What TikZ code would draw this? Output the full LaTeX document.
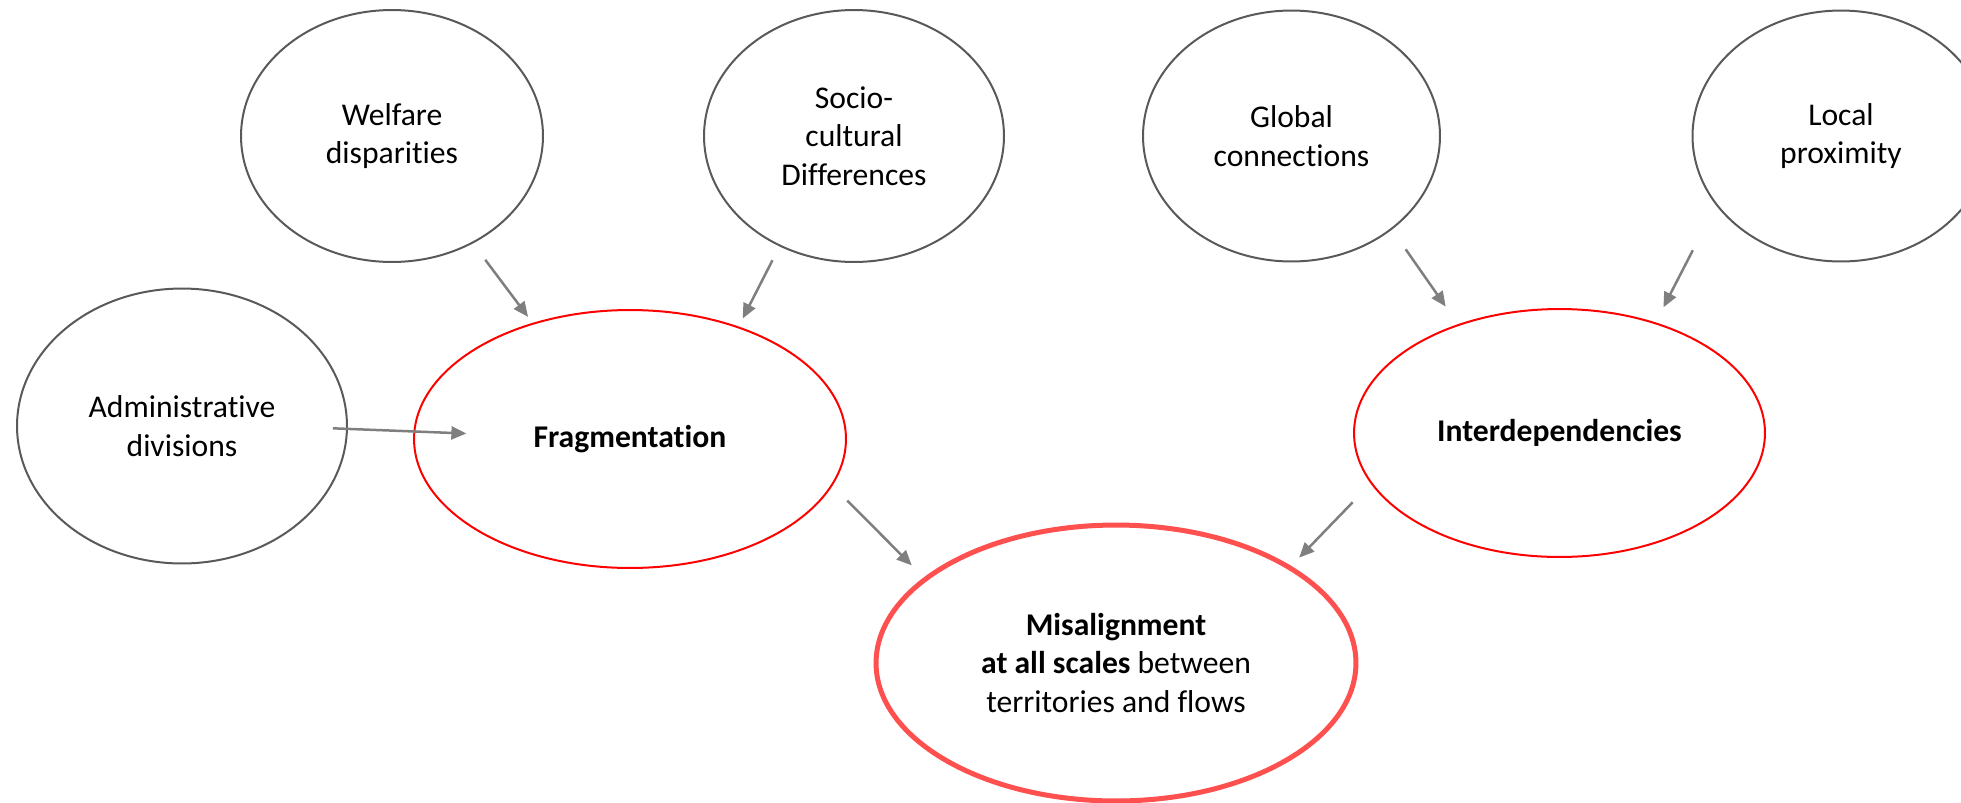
\documentclass[tikz,border=0pt]{standalone}
\usepackage{fontspec}
\setmainfont{Carlito}[Ligatures=NoCommon]
\usetikzlibrary{shapes.geometric,arrows.meta}
\definecolor{ringgrey}{HTML}{595959}
\definecolor{ringred}{HTML}{FF0000}
\definecolor{ringpink}{HTML}{FF5050}
\definecolor{arrowgrey}{HTML}{7F7F7F}
\tikzset{
	cause/.style={ellipse, draw=ringgrey, line width=0.04cm, align=center, inner sep=0pt, font=\fontsize{18}{21.9}\selectfont},
	effect/.style={cause, draw=ringred},
	outcome/.style={cause, draw=ringpink, line width=0.1cm},
	link/.style={draw=arrowgrey, line width=0.05cm, -{Triangle[length=0.3cm,width=0.26cm]}}
}

\begin{document}
\begin{tikzpicture}[x=0.02cm, y=-0.02cm]
			%%%%% START %%%%%
			
			\useasboundingbox (0, 0) rectangle (1961, 802);
			
			\node[cause, minimum width=6.04cm, minimum height=5.04cm] (welfare) at (392, 136) {Welfare\\disparities};
			\node[cause, minimum width=6.0cm, minimum height=5.04cm] (socio) at (854, 136) {Socio-\\cultural\\Differences};
			\node[cause, minimum width=5.94cm, minimum height=5.02cm] (global) at (1291.5, 136) {Global\\connections};
			\node[cause, minimum width=5.94cm, minimum height=5.02cm] (local) at (1841, 136) {Local\\proximity};
			\node[cause, minimum width=6.6cm, minimum height=5.5cm] (admin) at (182, 426) {Administrative\\divisions};
			
			\node[effect, minimum width=8.64cm, minimum height=5.16cm] (frag) at (630, 439) {\textbf{Fragmentation}};
			\node[effect, minimum width=8.22cm, minimum height=4.96cm] (inter) at (1559.5, 433) {\textbf{Interdependencies}};
			
			\node[outcome, minimum width=9.6cm, minimum height=5.52cm] (misalign) at (1116, 663) {\textbf{Misalignment}\\\textbf{at all scales} between\\territories and flows};
			
			\draw[link, shorten <=0.41cm, shorten >=0.15cm] (welfare.307) -- (frag.130);
			\draw[link, shorten <=0.31cm, shorten >=0.18cm] (socio.236) -- (frag.46);
			\draw[link, shorten <=-0.3cm, shorten >=-1.06cm] (admin.359) -- (frag.178);
			\draw[link, shorten <=0.42cm, shorten >=0.34cm] (frag.347) -- (misalign.156);
			
			\draw[link, shorten <=0.48cm, shorten >=0.43cm] (global.317) -- (inter.133);
			\draw[link, shorten <=1.01cm, shorten >=0.34cm] (local.209) -- (inter.49);
			\draw[link, shorten <=0.52cm, shorten >=0.23cm] (inter.195) -- (misalign.29);
			
			%%%%% END %%%%%
\end{tikzpicture}
\end{document}
